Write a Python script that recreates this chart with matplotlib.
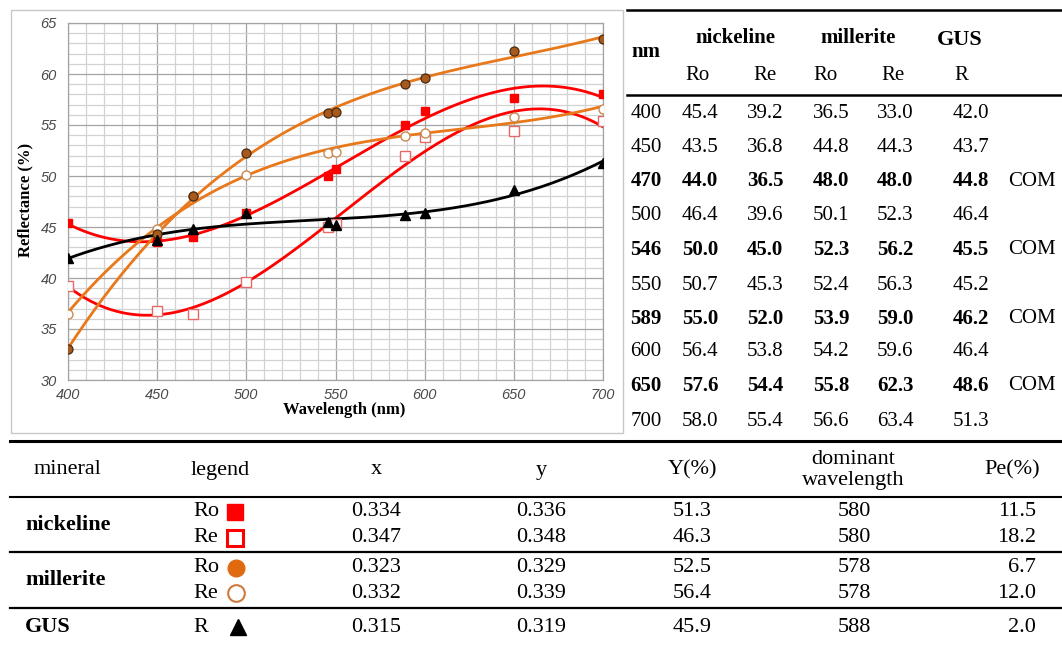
import numpy as np
import matplotlib
matplotlib.use("Agg")
import matplotlib.pyplot as plt
from matplotlib.lines import Line2D
from matplotlib.patches import Rectangle
from matplotlib.ticker import MultipleLocator

# ---------------- data ----------------
nm = [400, 450, 470, 500, 546, 550, 589, 600, 650, 700]
nick_ro = [45.4, 43.5, 44.0, 46.4, 50.0, 50.7, 55.0, 56.4, 57.6, 58.0]
nick_re = [39.2, 36.8, 36.5, 39.6, 45.0, 45.3, 52.0, 53.8, 54.4, 55.4]
mill_ro = [36.5, 44.8, 48.0, 50.1, 52.3, 52.4, 53.9, 54.2, 55.8, 56.6]
mill_re = [33.0, 44.3, 48.0, 52.3, 56.2, 56.3, 59.0, 59.6, 62.3, 63.4]
gus_r = [42.0, 43.7, 44.8, 46.4, 45.5, 45.2, 46.2, 46.4, 48.6, 51.3]
com_rows = [470, 546, 589, 650]

minerals = ["nickeline", "millerite", "GUS"]
legend_labels = ["Ro", "Re", "Ro", "Re", "R"]
cie_x = ["0.334", "0.347", "0.323", "0.332", "0.315"]
cie_y = ["0.336", "0.348", "0.329", "0.339", "0.319"]
cie_Y = ["51.3", "46.3", "52.5", "56.4", "45.9"]
dom_wl = ["580", "580", "578", "578", "588"]
pe = ["11.5", "18.2", "6.7", "12.0", "2.0"]

W, H = 1062, 646
fig = plt.figure(figsize=(W / 100, H / 100), dpi=100)
fig.patch.set_facecolor("white")

SERIF = "Liberation Serif"

def fx(x):
    return x / W

def fy(y):
    return 1 - y / H

def T(x, y, s, size=15, ha="center", weight="normal", **kw):
    fig.text(fx(x), fy(y), s, ha=ha, va="center", fontsize=size,
             family=SERIF, weight=weight, **kw)

def L(x0, x1, y, lw=1.5):
    fig.add_artist(Line2D([fx(x0), fx(x1)], [fy(y), fy(y)],
                          transform=fig.transFigure, color="black", lw=lw))

# chart frame
fig.add_artist(Rectangle((fx(11), fy(433)), fx(623) - fx(11), fy(10) - fy(433),
                         transform=fig.transFigure, fill=False,
                         edgecolor="#c8c8c8", lw=1.0))

# ---------------- chart ----------------
ax = fig.add_axes([fx(68), fy(380), fx(603) - fx(68), fy(23) - fy(380)])
ax.set_xlim(400, 700)
ax.set_ylim(30, 65)
ax.xaxis.set_major_locator(MultipleLocator(50))
ax.xaxis.set_minor_locator(MultipleLocator(10))
ax.yaxis.set_major_locator(MultipleLocator(5))
ax.yaxis.set_minor_locator(MultipleLocator(1))
ax.grid(which="minor", color="#d2d2d2", lw=0.9)
ax.grid(which="major", color="#a4a4a4", lw=0.9)
ax.set_axisbelow(True)
for sp in ax.spines.values():
    sp.set_color("#a4a4a4")
    sp.set_linewidth(0.9)
ax.tick_params(which="both", length=0)
ax.tick_params(axis="x", pad=6)
ax.tick_params(axis="y", pad=8)
for lab in ax.get_xticklabels() + ax.get_yticklabels():
    lab.set_fontfamily("Liberation Sans")
    lab.set_fontstyle("italic")
    lab.set_fontsize(10.5)
    lab.set_color("#4a4a4a")

xs = np.array(nm, dtype=float)
xfit = np.linspace(400, 700, 300)

def trend(vals, color):
    c = np.polyfit(xs, np.array(vals), 3)
    ax.plot(xfit, np.polyval(c, xfit), color=color, lw=2.0, zorder=3)

RED = "#ff0000"
ORANGE = "#e8781a"
trend(nick_ro, RED)
trend(nick_re, RED)
trend(mill_ro, ORANGE)
trend(mill_re, ORANGE)
trend(gus_r, "black")

ax.plot(nm, nick_ro, "s", ms=6, mfc=RED, mec=RED, ls="none", zorder=4)
ax.plot(nm, nick_re, "s", ms=6.5, mfc="white", mec="#e46a6a", mew=1.0, ls="none", zorder=4)
ax.plot(nm, mill_ro, "o", ms=6.5, mfc="white", mec="#c98a50", mew=1.0, ls="none", zorder=4)
ax.plot(nm, mill_re, "o", ms=6.5, mfc="#a85a1c", mec="#4a2a10", mew=0.9, ls="none", zorder=4)
ax.plot(nm, gus_r, "^", ms=6.5, mfc="black", mec="black", ls="none", zorder=4)

T(344, 410, "Wavelength (nm)", size=12, weight="bold")
fig.text(fx(25), fy(200), "Reflectance (%)", rotation=90, ha="center", va="center",
         fontsize=12, family=SERIF, weight="bold")

# ---------------- right table ----------------
L(627, 1062, 10, 1.8)
L(627, 1062, 95, 1.8)
T(646, 52, "nm", weight="bold")
T(735, 38, "nickeline", weight="bold")
T(858, 38, "millerite", weight="bold")
T(960, 40, "GUS", weight="bold", size=16)
for xc, s in zip([698, 765, 826, 893, 961], ["Ro", "Re", "Ro", "Re", "R"]):
    T(xc, 75, s)

row_y = [113, 147, 181, 215, 250, 285, 319, 352, 386, 422]
cols = [700, 765, 831, 895, 971]
for i, w in enumerate(nm):
    wt = "bold" if w in com_rows else "normal"
    yy = row_y[i]
    T(646, yy, str(w), weight=wt)
    for xc, v in zip(cols, [nick_ro[i], nick_re[i], mill_ro[i], mill_re[i], gus_r[i]]):
        T(xc, yy, f"{v:.1f}", weight=wt)
    if w in com_rows:
        T(1032, yy, "COM")

# ---------------- bottom table ----------------
L(10, 1062, 441, 2.2)
L(10, 1062, 497, 1.5)
L(10, 1062, 552, 1.6)
L(10, 1062, 608, 1.6)

T(67, 470, "mineral", size=16)
T(220, 470, "legend", size=16)
T(376, 470, "x", size=16)
T(541, 470, "y", size=16)
T(692, 470, "Y(%)", size=16)
T(853, 459, "dominant", size=16)
T(853, 481, "wavelength", size=16)
T(1012, 470, "Pe(%)", size=16)

T(25, 525, minerals[0], size=16, ha="left", weight="bold")
T(25, 580, minerals[1], size=16, ha="left", weight="bold")
T(25, 627, minerals[2], size=16, ha="left", weight="bold")

brow = [512, 538, 568, 593, 627]
for i in range(5):
    yy = brow[i]
    T(193, yy, legend_labels[i], size=16, ha="left")
    T(376, yy, cie_x[i], size=16)
    T(541, yy, cie_y[i], size=16)
    T(692, yy, cie_Y[i], size=16)
    T(854, yy, dom_wl[i], size=16)
    T(1036, yy, pe[i], size=16, ha="right")

mk = [dict(marker="s", ms=11, mfc=RED, mec=RED, mew=1),
      dict(marker="s", ms=11, mfc="white", mec=RED, mew=2.2),
      dict(marker="o", ms=12, mfc="#e06a10", mec="#e06a10", mew=1),
      dict(marker="o", ms=12, mfc="white", mec="#d07a3a", mew=1.5),
      dict(marker="^", ms=12, mfc="black", mec="black", mew=1)]
mx = [235, 235, 236, 236, 238]
for i in range(5):
    fig.add_artist(Line2D([fx(mx[i])], [fy(brow[i])], transform=fig.transFigure,
                          ls="none", **mk[i]))

fig.savefig("out.png", dpi=100)
